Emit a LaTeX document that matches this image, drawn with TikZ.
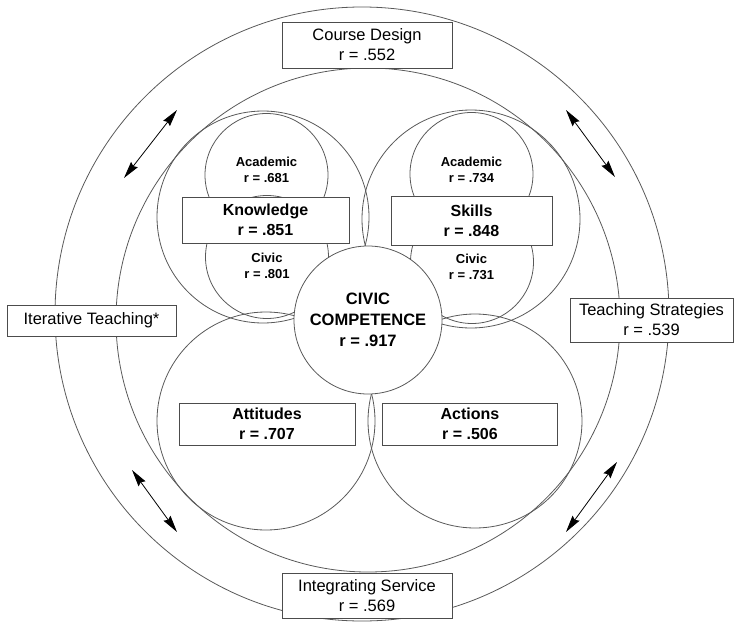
\documentclass[tikz,border=0pt]{standalone}
\usepackage{fontspec}
\setmainfont{Liberation Sans}
\usepackage{tikz}
\usetikzlibrary{arrows.meta}

\begin{document}
\begin{tikzpicture}[x=1pt, y=-1pt,
  ring/.style={circle, draw=black!65, line width=0.8pt, inner sep=0pt},
  outlab/.style={draw=black!70, fill=white, line width=0.8pt, align=center, inner sep=0pt, font=\fontsize{16.5}{20}\selectfont},
  boxlab/.style={draw=black!70, fill=white, line width=0.8pt, align=center, inner sep=0pt, font=\bfseries\fontsize{16}{20}\selectfont},
  sublab/.style={align=center, font=\bfseries\fontsize{13}{16.5}\selectfont},
  dblarrow/.style={{Stealth[length=17pt,width=8.5pt,inset=2pt]}-{Stealth[length=17pt,width=8.5pt,inset=2pt]}, line width=0.8pt}]
\useasboundingbox (0,0) rectangle (734,624);

%rings
  \node[ring, minimum size=614pt] (O) at (362,314) {};
  \node[ring, minimum size=504pt] (I) at (368,320) {};

%big circles
  \node[ring, minimum size=212pt] (K) at (263,217) {};
  \node[ring, minimum size=218pt] (S) at (471,219) {};
  \node[ring, minimum size=218pt] (T) at (266,421) {};
  \node[ring, minimum size=214pt] (N) at (475,421) {};

%small circles
  \node[ring, minimum size=123pt] (KA) at (266.5,175) {};
  \node[ring, minimum size=123pt] (KC) at (267,257) {};
  \node[ring, minimum size=123pt] (SA) at (471.5,174) {};
  \node[ring, minimum size=123pt] (SC) at (472,262) {};

  \node[sublab] (KAt) at (266.5,170) {Academic\\r = .681};
  \node[sublab] (KCt) at (267,266) {Civic\\r = .801};
  \node[sublab] (SAt) at (471.5,170) {Academic\\r = .734};
  \node[sublab] (SCt) at (471.5,267) {Civic\\r = .731};

%boxes
  \node[boxlab, minimum width=167pt, minimum height=46pt] (Kb) at (265.5,220) {Knowledge\\r = .851};
  \node[boxlab, minimum width=161pt, minimum height=49pt] (Sb) at (471.5,220.5) {Skills\\r = .848};
  \node[boxlab, minimum width=176pt, minimum height=42pt] (Tb) at (267,424) {Attitudes\\r = .707};
  \node[boxlab, minimum width=175pt, minimum height=42pt] (Nb) at (470,424) {Actions\\r = .506};

%centre
  \node[ring, fill=white, minimum size=148pt, align=center, font=\bfseries\fontsize{16.5}{21}\selectfont] (CC) at (368,320) {CIVIC\\COMPETENCE\\r = .917};

%outer labels
  \node[outlab, minimum width=170pt, minimum height=46pt] (CD) at (367,45) {Course Design\\r = .552};
  \node[outlab, minimum width=170pt, minimum height=45pt] (IS) at (367,595.5) {Integrating Service\\r = .569};
  \node[outlab, minimum width=169pt, minimum height=31pt] (IT) at (91.5,320.5) {Iterative Teaching*};
  \node[outlab, minimum width=163pt, minimum height=44pt] (TS) at (651.5,320) {Teaching Strategies\\r = .539};

%arrows
  \coordinate (a1) at (124,178);
  \coordinate (a2) at (177,110);
  \coordinate (a3) at (566,110);
  \coordinate (a4) at (615,177);
  \coordinate (a5) at (132,470);
  \coordinate (a6) at (177,532);
  \coordinate (a7) at (617,462);
  \coordinate (a8) at (566,532);

  \draw[dblarrow] (a1) -- (a2);
  \draw[dblarrow] (a3) -- (a4);
  \draw[dblarrow] (a5) -- (a6);
  \draw[dblarrow] (a7) -- (a8);
\end{tikzpicture}
\end{document}
